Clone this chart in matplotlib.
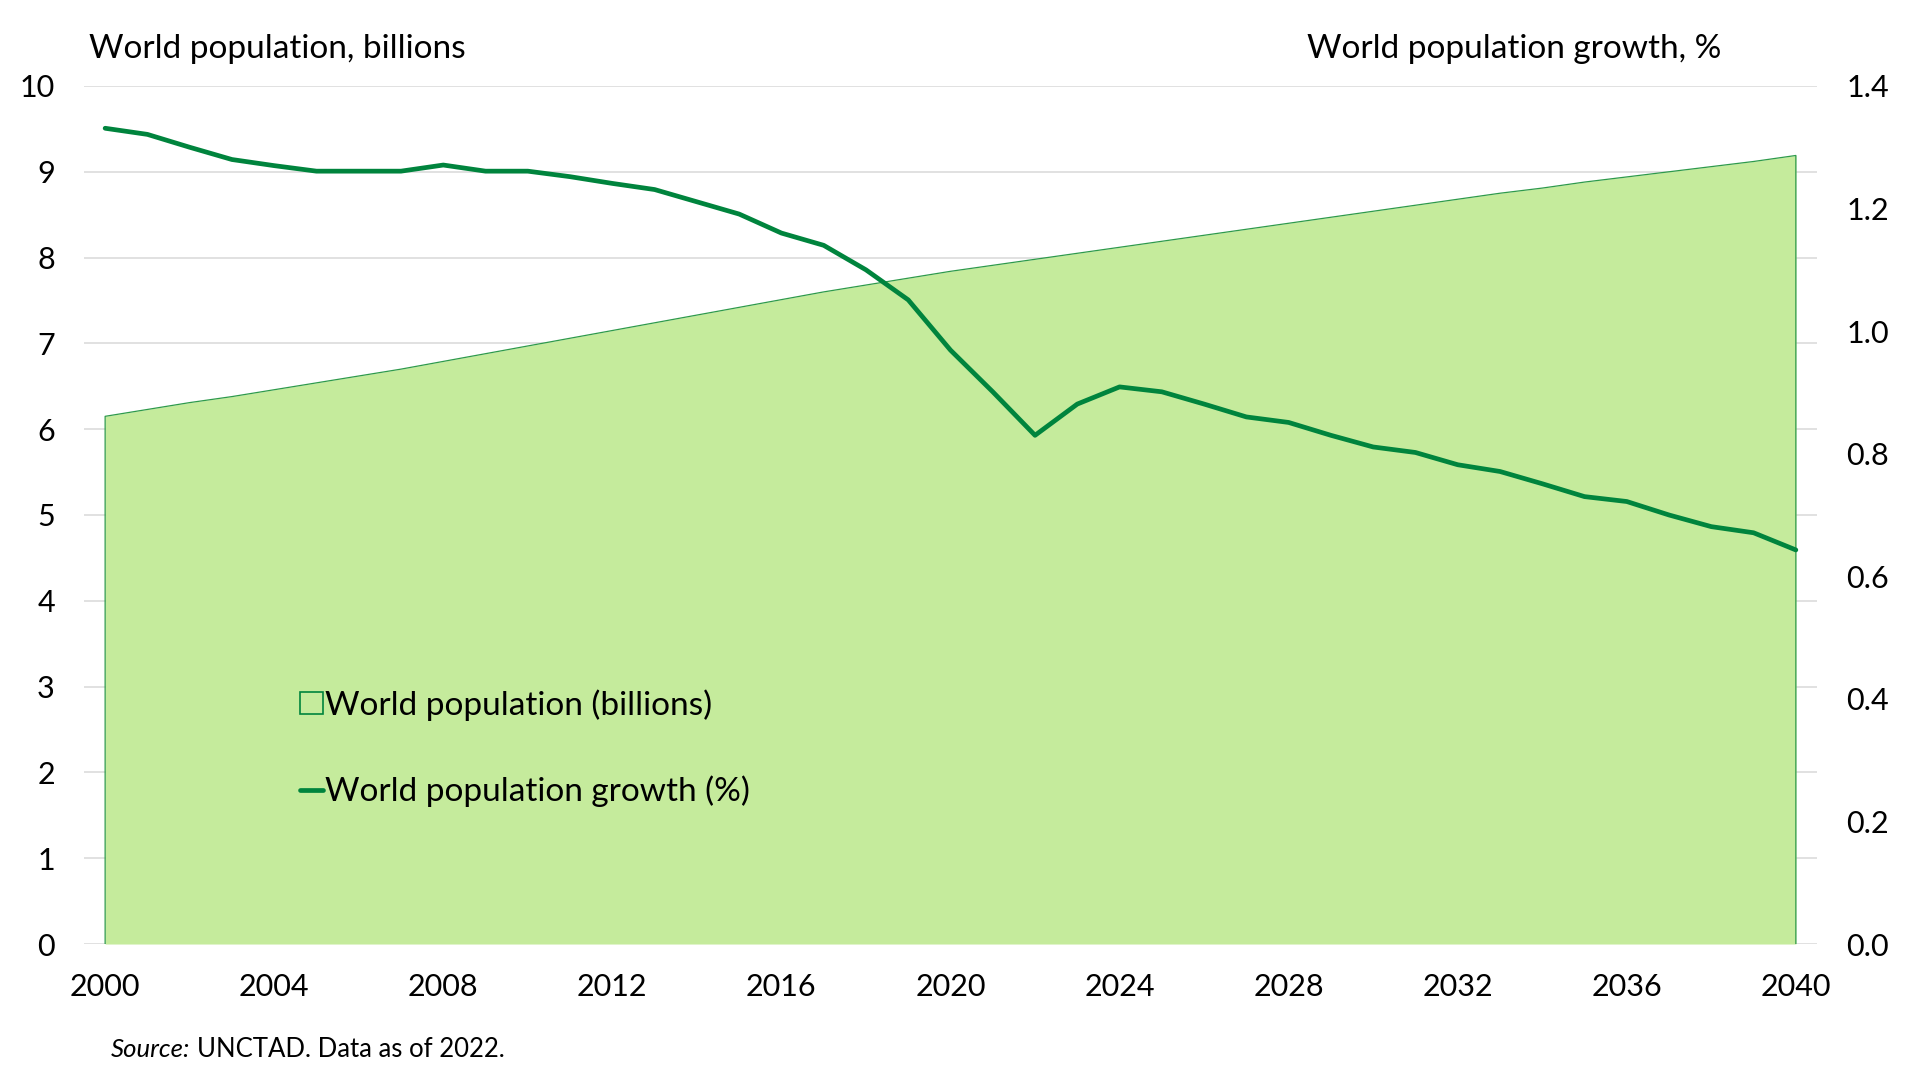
import numpy as np
import matplotlib
matplotlib.use("Agg")
from matplotlib import pyplot as plt
from matplotlib.patches import Patch
from matplotlib.lines import Line2D

plt.rcParams['font.family'] = ['Lato', 'DejaVu Sans']

# data
years = list(range(2000, 2041))
population = [6.15, 6.23, 6.31, 6.38, 6.46, 6.54, 6.62, 6.70, 6.79, 6.88,
              6.97, 7.06, 7.15, 7.24, 7.33, 7.42, 7.51, 7.60, 7.68, 7.76,
              7.84, 7.91, 7.98, 8.05, 8.12, 8.19, 8.26, 8.33, 8.40, 8.47,
              8.54, 8.61, 8.68, 8.75, 8.81, 8.88, 8.94, 9.00, 9.06, 9.12,
              9.19]
growth = [1.331, 1.321, 1.300, 1.280, 1.270, 1.261, 1.261, 1.261, 1.271, 1.261,
          1.261, 1.252, 1.241, 1.231, 1.211, 1.191, 1.160, 1.140, 1.100, 1.051,
          0.969, 0.901, 0.830, 0.881, 0.909, 0.901, 0.881, 0.860, 0.851, 0.830,
          0.811, 0.802, 0.782, 0.771, 0.751, 0.730, 0.722, 0.700, 0.681, 0.671,
          0.643]
x_ticks = list(range(2000, 2041, 4))
left_ticks = list(range(0, 11))
right_ticks = [0.0, 0.2, 0.4, 0.6, 0.8, 1.0, 1.2, 1.4]

FILL = '#c5eb9c'
EDGE = '#2e9a4a'
LINE = '#00843d'
GRID = '#d9d9d9'

fig = plt.figure(figsize=(19.2, 10.8), dpi=100)
ax = fig.add_axes([0.04375, 0.1259, 0.9026, 0.7945])
ax2 = ax.twinx()

# area for population
ax.fill_between(years, population, 0, color=FILL, lw=0, zorder=2)
ax.plot([years[0]] + years + [years[-1]], [0] + population + [0],
        color=EDGE, lw=0.9, zorder=3)
ax.set_ylim(0, 10)
ax.set_yticks(left_ticks)
ax.set_xlim(1999.5, 2040.5)
ax.set_xticks(x_ticks)
ax.grid(axis='y', color=GRID, lw=1.1, zorder=0)
ax.set_axisbelow(True)

# growth line
ax2.plot(years, growth, color=LINE, lw=3.4, solid_capstyle='round', zorder=4)
ax2.set_ylim(0, 1.4)
ax2.set_yticks(right_ticks)
ax2.set_yticklabels(["%.1f" % t for t in right_ticks])

for a in (ax, ax2):
    for s in a.spines.values():
        s.set_visible(False)
    a.tick_params(length=0, labelsize=22, pad=21)

handles = [Patch(facecolor=FILL, edgecolor=LINE, lw=1.2),
           Line2D([0], [0], color=LINE, lw=3.4, solid_capstyle='round')]
labels = ['World population (billions)', 'World population growth (%)']
ax2.legend(handles, labels, loc='center left', bbox_to_anchor=(0.1246, 0.228),
           frameon=False, fontsize=24, handlelength=0.68, handleheight=0.65,
           handletextpad=0.08, labelspacing=1.65, borderpad=0, borderaxespad=0)

fig.text(0.0464, 0.9546, 'World population, billions', fontsize=24,
         ha='left', va='center')
fig.text(0.7888, 0.9546, 'World population growth, %', fontsize=24,
         ha='center', va='center')

src = fig.text(0.0578, 0.028, 'Source:', fontsize=18.5, style='italic',
               ha='left', va='center')
fig.canvas.draw()
bb = src.get_window_extent()
fig.text((bb.x1 + 7) / fig.bbox.width, 0.028, 'UNCTAD. Data as of 2022.',
         fontsize=18.5, ha='left', va='center')

fig.savefig('out.png', dpi=100)
